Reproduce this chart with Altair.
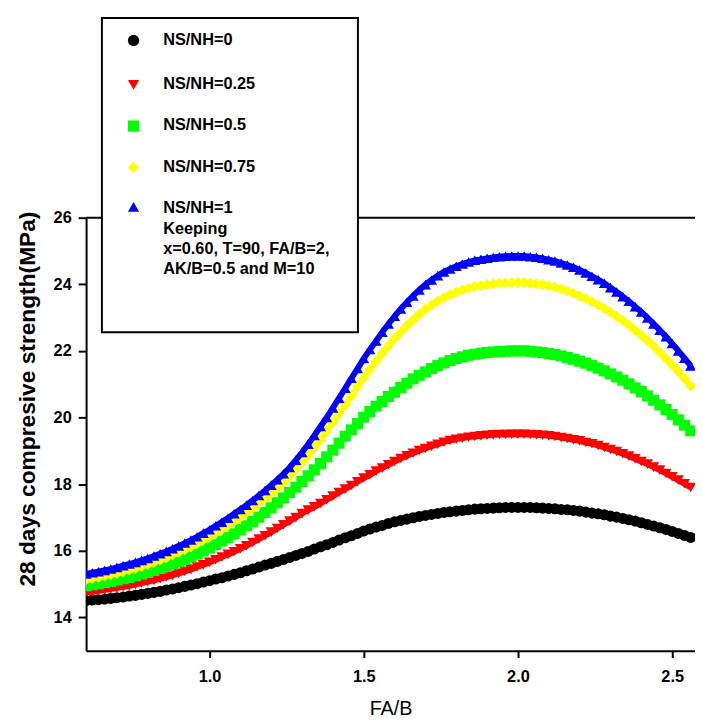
import altair as alt
import pandas as pd

# ---------------- data ----------------
fa_b = [0.60, 0.62, 0.64, 0.66, 0.68, 0.70, 0.72, 0.74, 0.76, 0.78,
        0.80, 0.82, 0.84, 0.86, 0.88, 0.90, 0.92, 0.94, 0.96, 0.98,
        1.00, 1.02, 1.04, 1.06, 1.08, 1.10, 1.12, 1.14, 1.16, 1.18,
        1.20, 1.22, 1.24, 1.26, 1.28, 1.30, 1.32, 1.34, 1.36, 1.38,
        1.40, 1.42, 1.44, 1.46, 1.48, 1.50, 1.52, 1.54, 1.56, 1.58,
        1.60, 1.62, 1.64, 1.66, 1.68, 1.70, 1.72, 1.74, 1.76, 1.78,
        1.80, 1.82, 1.84, 1.86, 1.88, 1.90, 1.92, 1.94, 1.96, 1.98,
        2.00, 2.02, 2.04, 2.06, 2.08, 2.10, 2.12, 2.14, 2.16, 2.18,
        2.20, 2.22, 2.24, 2.26, 2.28, 2.30, 2.32, 2.34, 2.36, 2.38,
        2.40, 2.42, 2.44, 2.46, 2.48, 2.50, 2.52, 2.54, 2.56]

ns_nh_0 = [14.50, 14.52, 14.53, 14.55, 14.57, 14.59, 14.61, 14.64, 14.66, 14.69,
           14.72, 14.75, 14.78, 14.82, 14.85, 14.89, 14.93, 14.97, 15.01, 15.06,
           15.10, 15.15, 15.19, 15.24, 15.29, 15.34, 15.40, 15.45, 15.51, 15.57,
           15.62, 15.68, 15.74, 15.80, 15.86, 15.92, 15.98, 16.05, 16.12, 16.18,
           16.25, 16.32, 16.39, 16.45, 16.52, 16.59, 16.65, 16.71, 16.76, 16.82,
           16.87, 16.91, 16.95, 16.99, 17.03, 17.06, 17.09, 17.12, 17.15, 17.17,
           17.19, 17.21, 17.23, 17.25, 17.26, 17.27, 17.28, 17.29, 17.30, 17.30,
           17.30, 17.30, 17.30, 17.29, 17.28, 17.27, 17.26, 17.24, 17.23, 17.21,
           17.19, 17.16, 17.13, 17.11, 17.08, 17.04, 17.01, 16.97, 16.93, 16.89,
           16.84, 16.79, 16.74, 16.69, 16.64, 16.58, 16.52, 16.46, 16.40]

ns_nh_025 = [14.75, 14.77, 14.80, 14.83, 14.85, 14.88, 14.92, 14.95, 14.99, 15.03,
             15.07, 15.11, 15.16, 15.21, 15.26, 15.32, 15.38, 15.44, 15.51, 15.58,
             15.65, 15.73, 15.81, 15.89, 15.97, 16.06, 16.15, 16.25, 16.35, 16.45,
             16.56, 16.67, 16.78, 16.89, 17.00, 17.12, 17.22, 17.32, 17.42, 17.53,
             17.64, 17.75, 17.85, 17.96, 18.07, 18.18, 18.28, 18.39, 18.48, 18.58,
             18.68, 18.77, 18.85, 18.93, 19.01, 19.07, 19.14, 19.20, 19.26, 19.31,
             19.35, 19.38, 19.41, 19.43, 19.45, 19.47, 19.48, 19.49, 19.49, 19.50,
             19.50, 19.50, 19.49, 19.48, 19.47, 19.45, 19.43, 19.40, 19.37, 19.33,
             19.30, 19.25, 19.21, 19.16, 19.10, 19.04, 18.98, 18.91, 18.84, 18.76,
             18.68, 18.60, 18.51, 18.42, 18.32, 18.22, 18.12, 18.01, 17.90]

ns_nh_05 = [14.95, 14.98, 15.01, 15.05, 15.08, 15.12, 15.16, 15.20, 15.25, 15.30,
            15.35, 15.41, 15.47, 15.53, 15.60, 15.67, 15.74, 15.82, 15.90, 15.99,
            16.08, 16.18, 16.29, 16.40, 16.51, 16.63, 16.75, 16.88, 17.01, 17.15,
            17.29, 17.44, 17.59, 17.75, 17.91, 18.08, 18.25, 18.43, 18.62, 18.82,
            19.02, 19.23, 19.44, 19.63, 19.82, 20.01, 20.18, 20.34, 20.48, 20.63,
            20.76, 20.90, 21.03, 21.16, 21.27, 21.37, 21.47, 21.56, 21.64, 21.71,
            21.77, 21.82, 21.87, 21.90, 21.93, 21.95, 21.97, 21.98, 21.99, 22.00,
            22.00, 22.00, 21.99, 21.97, 21.95, 21.92, 21.89, 21.85, 21.80, 21.75,
            21.69, 21.63, 21.56, 21.48, 21.40, 21.31, 21.22, 21.12, 21.01, 20.89,
            20.78, 20.65, 20.52, 20.38, 20.24, 20.09, 19.93, 19.77, 19.60]

ns_nh_075 = [15.13, 15.16, 15.20, 15.24, 15.28, 15.32, 15.37, 15.42, 15.47, 15.53,
             15.59, 15.65, 15.72, 15.79, 15.87, 15.95, 16.03, 16.12, 16.22, 16.32,
             16.42, 16.53, 16.64, 16.76, 16.88, 17.00, 17.14, 17.27, 17.41, 17.56,
             17.71, 17.87, 18.05, 18.24, 18.43, 18.64, 18.86, 19.09, 19.33, 19.59,
             19.85, 20.12, 20.38, 20.65, 20.93, 21.19, 21.45, 21.69, 21.93, 22.15,
             22.38, 22.57, 22.76, 22.93, 23.10, 23.25, 23.38, 23.49, 23.60, 23.69,
             23.76, 23.83, 23.88, 23.93, 23.96, 23.99, 24.01, 24.03, 24.04, 24.05,
             24.05, 24.05, 24.03, 24.01, 23.99, 23.95, 23.91, 23.86, 23.80, 23.73,
             23.65, 23.57, 23.48, 23.38, 23.28, 23.16, 23.04, 22.91, 22.77, 22.62,
             22.47, 22.31, 22.14, 21.96, 21.77, 21.58, 21.38, 21.17, 20.95]

ns_nh_1 = [15.30, 15.34, 15.37, 15.41, 15.45, 15.50, 15.55, 15.60, 15.65, 15.71,
           15.77, 15.84, 15.91, 15.98, 16.06, 16.14, 16.23, 16.32, 16.42, 16.53,
           16.63, 16.75, 16.86, 16.98, 17.11, 17.24, 17.37, 17.51, 17.66, 17.81,
           17.97, 18.13, 18.31, 18.50, 18.72, 18.95, 19.20, 19.46, 19.73, 20.00,
           20.29, 20.58, 20.88, 21.18, 21.47, 21.77, 22.04, 22.30, 22.56, 22.81,
           23.04, 23.26, 23.46, 23.65, 23.83, 23.99, 24.13, 24.26, 24.37, 24.46,
           24.54, 24.61, 24.67, 24.72, 24.75, 24.78, 24.81, 24.83, 24.84, 24.85,
           24.85, 24.85, 24.83, 24.81, 24.78, 24.74, 24.70, 24.64, 24.58, 24.51,
           24.43, 24.34, 24.24, 24.14, 24.03, 23.90, 23.77, 23.63, 23.49, 23.33,
           23.17, 22.99, 22.81, 22.62, 22.43, 22.22, 22.00, 21.78, 21.55]

series_names = ["NS/NH=0", "NS/NH=0.25", "NS/NH=0.5", "NS/NH=0.75", "NS/NH=1"]
series_values = [ns_nh_0, ns_nh_025, ns_nh_05, ns_nh_075, ns_nh_1]
series_colors = ["#000000", "#ff0000", "#00ff00", "#ffff00", "#0000ff"]
series_shapes = ["circle", "triangle-down", "square", "diamond", "triangle-up"]
keeping_lines = ["Keeping", "x=0.60, T=90, FA/B=2,", "AK/B=0.5 and M=10"]

x_ticks = [1.0, 1.5, 2.0, 2.5]
y_ticks = [14, 16, 18, 20, 22, 24, 26]

# ---------------- layout ----------------
W, H = 616, 438
FONT = "Liberation Sans"

xs = alt.Scale(domain=[0.6, 2.574], nice=False, zero=False)
ys = alt.Scale(domain=[13, 26], nice=False, zero=False)

x_axis = alt.Axis(values=x_ticks, format=".1f", grid=False,
                  labelFont=FONT, labelFontSize=16.5, labelFontWeight="bold",
                  labelColor="black", labelPadding=11,
                  tickSize=7, tickWidth=2, tickColor="black",
                  domainColor="black", domainWidth=2,
                  titleFont=FONT, titleFontSize=20, titleFontWeight="normal",
                  titleColor="black", titleX=W / 2, titleY=65,
                  titleBaseline="alphabetic", titleAlign="center")
y_axis = alt.Axis(values=y_ticks, grid=False,
                  labelFont=FONT, labelFontSize=16.5, labelFontWeight="bold",
                  labelColor="black", labelPadding=7,
                  tickSize=8, tickWidth=2, tickColor="black",
                  domainColor="black", domainWidth=2,
                  titleFont=FONT, titleFontSize=23, titleFontWeight="bold",
                  titleColor="black", titleX=-59, titleY=183, titleAngle=270,
                  titleBaseline="middle", titleAlign="center")

X = alt.X("fab:Q", scale=xs, axis=x_axis, title="FA/B")
Y = alt.Y("strength:Q", scale=ys, axis=y_axis, title="28 days compresive strength(MPa)")

layers = []

# top frame line
layers.append(
    alt.Chart(pd.DataFrame({"k": [0]})).mark_rule(color="black", strokeWidth=2)
    .encode(x=alt.value(0), x2=alt.value(W), y=alt.value(0))
)

# curves (dense markers over a thick line of the same colour)
for name, vals, col, shp in zip(series_names, series_values, series_colors, series_shapes):
    df = pd.DataFrame({"fab": fa_b, "strength": vals, "series": name})
    layers.append(
        alt.Chart(df).mark_line(color=col, strokeWidth=6, clip=True).encode(x=X, y=Y)
    )
    layers.append(
        alt.Chart(df).mark_point(shape=shp, filled=True, size=125, color=col,
                                 opacity=1, clip=True).encode(x=X, y=Y)
    )

# legend box
layers.append(
    alt.Chart(pd.DataFrame({"k": [0]})).mark_rect(fill="white", stroke="black", strokeWidth=2)
    .encode(x=alt.value(16), x2=alt.value(275), y=alt.value(-202), y2=alt.value(116))
)

sym_y = [-179.3, -134.3, -92.7, -51, -11]
lab_y = [-179.3, -135, -93.3, -51.7, -9.3]
for name, col, shp, sy, ly in zip(series_names, series_colors, series_shapes, sym_y, lab_y):
    layers.append(
        alt.Chart(pd.DataFrame({"label": [name]})).mark_point(
            shape=shp, filled=True, size=130, color=col, opacity=1)
        .encode(x=alt.value(48), y=alt.value(sy))
    )
    layers.append(
        alt.Chart(pd.DataFrame({"label": [name]})).mark_text(
            align="left", baseline="middle", font=FONT, fontSize=16.5,
            fontWeight="bold", color="black")
        .encode(x=alt.value(78), y=alt.value(ly), text=alt.Text("label:N"))
    )

keep_y = [11.7, 32.2, 52.2]
for line, ky in zip(keeping_lines, keep_y):
    layers.append(
        alt.Chart(pd.DataFrame({"label": [line]})).mark_text(
            align="left", baseline="middle", font=FONT, fontSize=16.5,
            fontWeight="bold", color="black")
        .encode(x=alt.value(78), y=alt.value(ky), text=alt.Text("label:N"))
    )

chart = (
    alt.layer(*layers)
    .properties(width=W, height=H,
                padding={"left": 79, "top": 208, "right": 0, "bottom": 65},
                autosize=alt.AutoSizeParams(type="none"),
                background="white")
    .configure_view(stroke=None)
)

chart.save("out.html", embed_options={"renderer": "svg", "actions": False})
